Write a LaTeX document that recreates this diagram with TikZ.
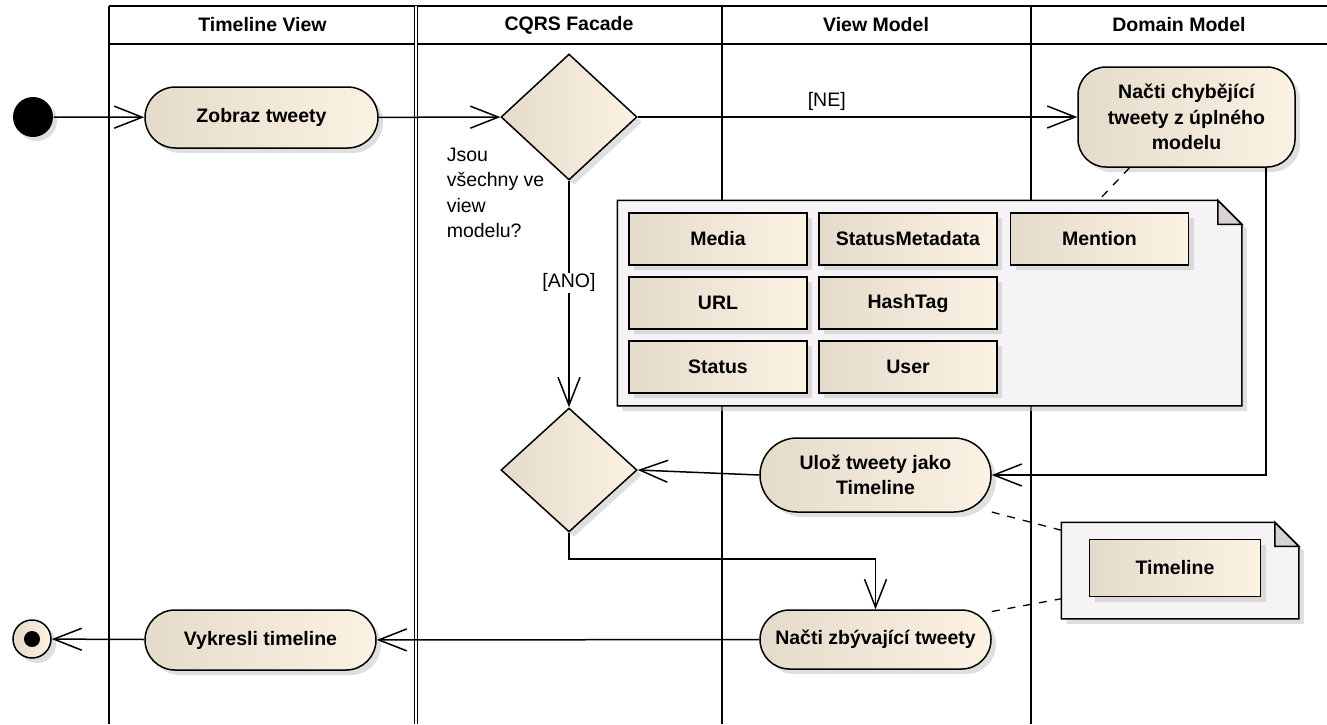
\documentclass[tikz,border=0pt]{standalone}
\usepackage{fontspec}
\setmainfont{Liberation Sans}
\usetikzlibrary{arrows.meta,shapes.geometric,shapes.misc,shadows,positioning,fit}
\definecolor{actleft}{RGB}{229,219,203}
\definecolor{actright}{RGB}{251,242,227}
\definecolor{notefill}{RGB}{246,243,246}
\definecolor{foldfill}{RGB}{214,210,214}
\definecolor{shadowgray}{RGB}{192,192,192}
\def\diafont{\fontsize{19.5}{25.5}\selectfont}

\begin{document}
\begin{tikzpicture}[x=1pt, y=-1pt, auto, line width=1.5pt, >={Straight Barb[length=28pt,width=22pt]}]
    \tikzstyle{every node} = [font=\diafont]
    \tikzstyle{shade} = [draw=black, left color=actleft, right color=actright, drop shadow={shadow xshift=5pt, shadow yshift=-5pt, fill=shadowgray}]
    \tikzstyle{action} = [shade, rounded rectangle, align=center, font=\diafont\bfseries, minimum width=235pt, minimum height=60pt, inner sep=2pt]
    \tikzstyle{decision} = [shade, diamond, inner sep=0pt, minimum width=136pt, minimum height=126pt]
    \tikzstyle{entity} = [shade, rectangle, font=\diafont\bfseries, minimum width=178pt, minimum height=52pt, inner sep=0pt]
    \tikzstyle{notebox} = [rectangle, inner sep=0pt]
    \tikzstyle{notebody} = [draw=black, fill=notefill, drop shadow={shadow xshift=5pt, shadow yshift=-5pt, fill=shadowgray}]
    \tikzstyle{notefold} = [draw=black, fill=foldfill]
    \tikzstyle{lanehead} = [font=\diafont\bfseries]
    \tikzstyle{anchorline} = [line width=1.3pt, dash pattern=on 8pt off 8pt]

    \useasboundingbox (0,0) rectangle (1327,724);

    \draw (109,6) -- (1327,6);
    \draw (109,44) -- (1327,44);
    \foreach \x in {109,722,1031}
      \draw (\x,6) -- (\x,724);
    \draw [double, double distance=1.2pt, line width=1.2pt] (416,6) -- (416,724);

    \node (lanetimeline) [lanehead] at (262.5,25) {Timeline View};
    \node (lanefacade) [lanehead] at (569,25) {CQRS Facade};
    \node (laneview) [lanehead] at (876,25) {View Model};
    \node (lanedomain) [lanehead] at (1179,25) {Domain Model};

    \node (start) [circle, fill=black, minimum size=40pt, inner sep=0pt, drop shadow={shadow xshift=4pt, shadow yshift=-4pt, fill=shadowgray}] at (33,117) {};
    \node (zobraz) [action, minimum width=237pt, minimum height=61pt] at (261.5,117.5) {Zobraz tweety};
    \node (check) [decision] at (569,117) {};
    \node (question) [anchor=north west, align=left, inner sep=0pt] at (446,147) {Jsou\\všechny ve\\view\\modelu?};
    \node (nactichyb) [shade, rectangle, rounded corners=28pt, align=center, font=\diafont\bfseries, minimum width=217pt, minimum height=100pt, inner sep=2pt] at (1186.5,117) {Načti chybějící\\tweety z úplného\\modelu};

    \node (modelnote) [notebox, minimum width=623pt, minimum height=204pt] at (929.5,303) {};
    \draw [notebody] (modelnote.north west) -- ([xshift=-24pt]modelnote.north east) -- ([yshift=-24pt]modelnote.north east) -- (modelnote.south east) -- (modelnote.south west) -- cycle;
    \draw [notefold] ([xshift=-24pt]modelnote.north east) -- ([xshift=-24pt,yshift=-24pt]modelnote.north east) -- ([yshift=-24pt]modelnote.north east) -- cycle;
    \node (media) [entity] at (718,239) {Media};
    \node (statusmeta) [entity] at (908,239) {StatusMetadata};
    \node (mention) [entity] at (1099.5,239) {Mention};
    \node (url) [entity] at (718,303) {URL};
    \node (hashtag) [entity] at (908,303) {HashTag};
    \node (status) [entity] at (718,367) {Status};
    \node (user) [entity] at (908,367) {User};

    \node (merge) [decision, minimum height=124pt] at (569,470) {};
    \node (ulozit) [action, minimum height=74pt] at (875.5,475) {Ulož tweety jako\\Timeline};
    \node (nactizbyv) [action, minimum height=59pt] at (875.5,639.5) {Načti zbývající tweety};
    \node (vykresli) [action] at (260.5,640) {Vykresli timeline};
    \node (finish) [shade, circle, minimum size=38pt, inner sep=0pt] at (32,639) {};
    \node (finishdot) [circle, fill=black, minimum size=16pt, inner sep=0pt] at (finish) {};

    \node (timelinenote) [notebox, minimum width=236pt, minimum height=95pt] at (1180,570.5) {};
    \draw [notebody] (timelinenote.north west) -- ([xshift=-24pt]timelinenote.north east) -- ([yshift=-24pt]timelinenote.north east) -- (timelinenote.south east) -- (timelinenote.south west) -- cycle;
    \draw [notefold] ([xshift=-24pt]timelinenote.north east) -- ([xshift=-24pt,yshift=-24pt]timelinenote.north east) -- ([yshift=-24pt]timelinenote.north east) -- cycle;
    \node (timeline) [entity, minimum width=171pt, minimum height=57pt] at (1175,568) {Timeline};

    \draw [->] (start) -- (zobraz);
    \draw [->] (zobraz) -- (check);
    \draw [->] (check) -- node[pos=0.43, above, inner sep=6pt] {[NE]} (nactichyb);
    \draw [->] (check) -- node[auto=false, pos=0.45, fill=white, inner sep=1pt] {[ANO]} (merge);
    \draw [->] ([xshift=-30pt]nactichyb.south east) |- (ulozit.east);
    \draw [->] (ulozit.west) -- (merge.east);
    \draw [->] (merge.south) -- ++(0,26) -| (nactizbyv.north);
    \draw [->] (nactizbyv) -- (vykresli);
    \draw [->] (vykresli) -- (finish);

    \draw [anchorline] ([xshift=-57pt]nactichyb.south) -- ([xshift=-143pt]modelnote.north east);
    \draw [anchorline] ([yshift=-37pt]ulozit.east) -- ([yshift=-8pt]timelinenote.north west);
    \draw [anchorline] ([yshift=28pt]nactizbyv.east) -- ([yshift=20pt]timelinenote.south west);
  \end{tikzpicture}
\end{document}
